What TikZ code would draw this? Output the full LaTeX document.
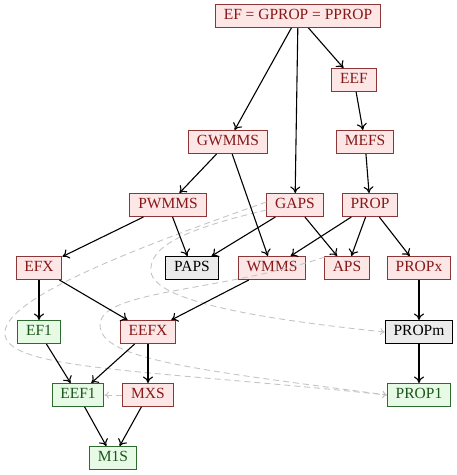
\documentclass[tikz,border=0pt]{standalone}
\usepackage{fontspec}
\setmainfont{Liberation Serif}
\usetikzlibrary{arrows.meta}
\definecolor{rfill}{HTML}{FDE6E6}
\definecolor{rdraw}{HTML}{8E3535}
\definecolor{rtext}{HTML}{861818}
\definecolor{gfill}{HTML}{E6FAE6}
\definecolor{gdraw}{HTML}{2E6B2E}
\definecolor{gtext}{HTML}{1B561B}
\definecolor{kfill}{HTML}{EBEBEB}
\definecolor{dgray}{HTML}{C4C4C4}
\tikzset{
  box/.style={draw, line width=1pt, minimum height=23pt, inner xsep=8.3pt, inner ysep=0pt,
    text height=10.8pt, text depth=3pt, font=\fontsize{15.5}{18}\selectfont},
  rbox/.style={box, fill=rfill, draw=rdraw, text=rtext},
  gbox/.style={box, fill=gfill, draw=gdraw, text=gtext},
  kbox/.style={box, fill=kfill, draw=black, text=black},
  imp/.style={line width=1.1pt, -{To[length=6.5pt,width=10pt]}},
  cond/.style={line width=0.9pt, dgray, dash pattern=on 6pt off 4pt, -{To[length=4.5pt,width=7pt]}}
}
\begin{document}
\begin{tikzpicture}[x=1pt,y=-1pt]
\useasboundingbox (0,0) rectangle (457,475);
\node[rbox] (top) at (298,16) {EF = GPROP = PPROP};
\node[rbox] (eef) at (354,80) {EEF};
\node[rbox] (gwmms) at (228,142) {GWMMS};
\node[rbox] (mefs) at (365,142) {MEFS};
\node[rbox] (pwmms) at (168,205) {PWMMS};
\node[rbox] (gaps) at (295,205) {GAPS};
\node[rbox] (prop) at (370,205) {PROP};
\node[rbox] (efx) at (39,268) {EFX};
\node[kbox] (paps) at (192,268) {PAPS};
\node[rbox] (wmms) at (272,268) {WMMS};
\node[rbox] (aps) at (347,268) {APS};
\node[rbox] (propx) at (419,268) {PROPx};
\node[gbox] (ef1) at (39,332) {EF1};
\node[rbox] (eefx) at (148,332) {EEFX};
\node[kbox] (propm) at (419,332) {PROPm};
\node[gbox] (eef1) at (78,395) {EEF1};
\node[rbox] (mxs) at (148,395) {MXS};
\node[gbox] (prop1) at (419,395) {PROP1};
\node[gbox] (m1s) at (113,458) {M1S};

\coordinate (ga1) at ([yshift=-5pt]gaps.west);
\coordinate (ga2) at ([yshift=3pt]gaps.west);
\coordinate (ap1) at ([xshift=-22pt,yshift=11pt]aps.center);
\coordinate (lp1) at (151,272);
\coordinate (lp2) at (5,335);
\coordinate (lp3) at (100,325);

\draw[cond] (ga1) .. controls (190,228) and (148,245) .. (lp1)
  .. controls (155,300) and (250,318) .. (propm.west);
\draw[cond] (ga2) .. controls (130,250) and (0,300) .. (lp2)
  .. controls (10,370) and (150,370) .. (prop1.west);
\draw[cond] (ap1) .. controls (220,292) and (100,290) .. (lp3)
  .. controls (100,360) and (200,370) .. (prop1.west);
\draw[cond] (mxs) -- (eef1);

\draw[imp] (top) -- (gwmms);
\draw[imp] (top) -- (gaps);
\draw[imp] (top) -- (eef);
\draw[imp] (eef) -- (mefs);
\draw[imp] (mefs) -- (prop);
\draw[imp] (gwmms) -- (pwmms);
\draw[imp] (gwmms) -- (wmms);
\draw[imp] (pwmms) -- (efx);
\draw[imp] (pwmms) -- (paps);
\draw[imp] (gaps) -- (paps);
\draw[imp] (gaps) -- (aps);
\draw[imp] (prop) -- (wmms);
\draw[imp] (prop) -- (aps);
\draw[imp] (prop) -- (propx);
\draw[imp] (efx) -- (ef1);
\draw[imp] (efx) -- (eefx);
\draw[imp] (wmms) -- (eefx);
\draw[imp] (propx) -- (propm);
\draw[imp] (propm) -- (prop1);
\draw[imp] (ef1) -- (eef1);
\draw[imp] (eefx) -- (eef1);
\draw[imp] (eefx) -- (mxs);
\draw[imp] (eef1) -- (m1s);
\draw[imp] (mxs) -- (m1s);
\end{tikzpicture}
\end{document}
